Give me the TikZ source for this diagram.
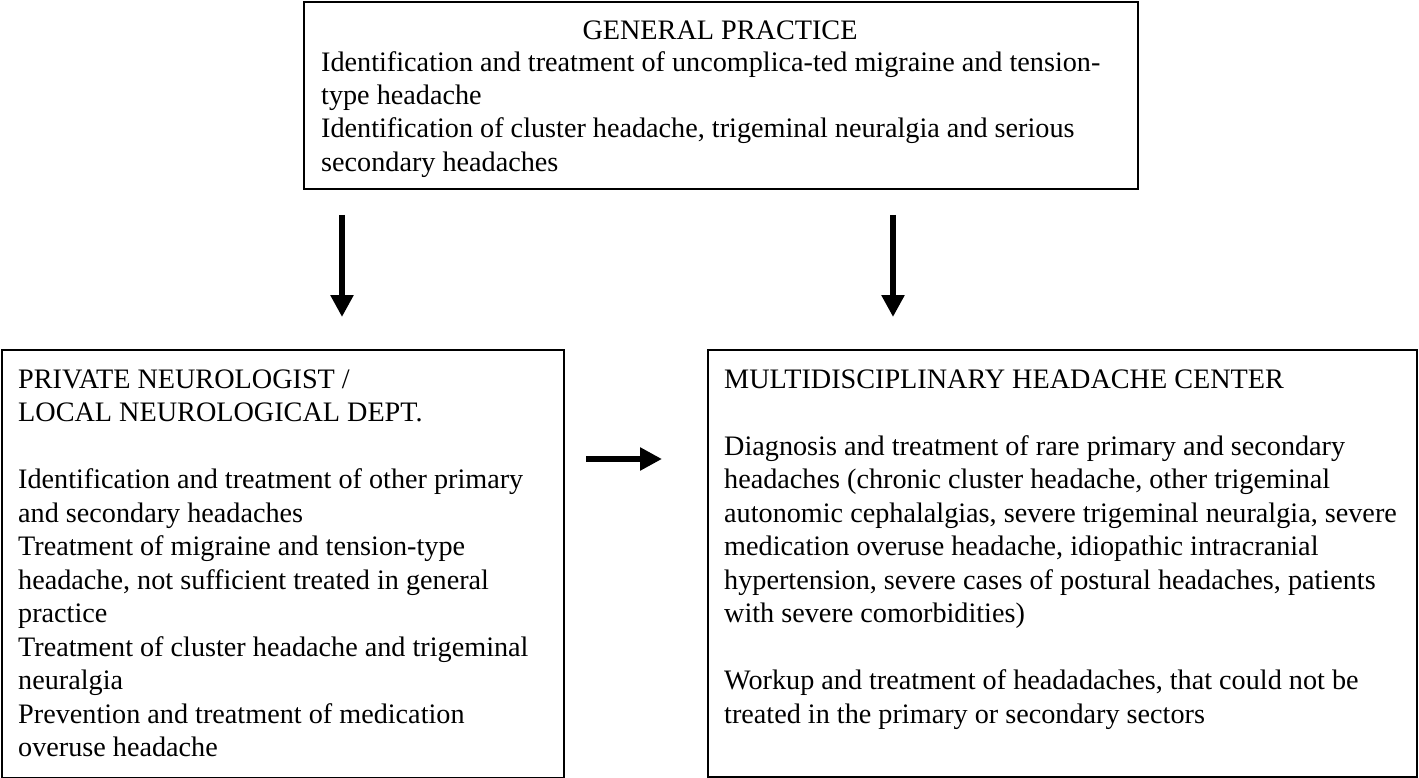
\documentclass[tikz,border=0pt]{standalone}
\usepackage{fontspec}
\setmainfont{Liberation Serif}
\usetikzlibrary{arrows.meta}
\begin{document}
\begin{tikzpicture}[x=1pt,y=-1pt,
                box/.style={draw,line width=2pt,inner sep=0pt,anchor=north west},
                txt/.style={inner sep=0pt,anchor=north west,align=left,font=\fontsize{28.2}{#1}\selectfont},
                txt/.default=33.5,
                bigarrow/.style={line width=6pt,-{Triangle[width=22pt,length=22pt]}}]
                \useasboundingbox (0,0) rectangle (1419,778);
                \node[box,minimum width=834pt,minimum height=187pt] (gp) at (303,1) {};
                \node[box,minimum width=562pt,minimum height=428pt] (pn) at (1,349) {};
                \node[box,minimum width=709pt,minimum height=427pt] (mhc) at (707,349) {};

                \node[txt,anchor=north] (gpT) at (720,15.5) {\strut GENERAL PRACTICE};
                \node[txt=33.4] (gpB) at (321,47.5) {\strut Identification and treatment of uncomplica-ted migraine and tension-\\
                    type headache\\
                    Identification of cluster headache, trigeminal neuralgia and serious\\
                    secondary headaches};
                \node[txt] (pnB) at (18,364.5) {\strut PRIVATE NEUROLOGIST /\\
                    LOCAL NEUROLOGICAL DEPT.\\[33.5pt]
                    Identification and treatment of other primary\\
                    and secondary headaches\\
                    Treatment of migraine and tension-type\\
                    headache, not sufficient treated in general\\
                    practice\\
                    Treatment of cluster headache and trigeminal\\
                    neuralgia\\
                    Prevention and treatment of  medication\\
                    overuse headache};
                \node[txt] (mhcB) at (724,364.5) {\strut MULTIDISCIPLINARY HEADACHE CENTER\\[33.5pt]
                    Diagnosis and treatment of rare primary and secondary\\
                    headaches (chronic cluster headache, other trigeminal\\
                    autonomic cephalalgias, severe trigeminal neuralgia, severe\\
                    medication overuse headache, idiopathic intracranial\\
                    hypertension, severe cases of postural headaches, patients\\
                    with severe comorbidities)\\[33.5pt]
                    Workup and treatment of headadaches, that could not be\\
                    treated in the primary or secondary sectors};

                \coordinate (A1) at (342,215);
                \coordinate (B1) at (342,317);
                \coordinate (A2) at (893,215);
                \coordinate (B2) at (893,317);
                \coordinate (A3) at (586,459);
                \coordinate (B3) at (662,459);

                \draw[bigarrow] (A1) -- (B1);
                \draw[bigarrow] (A2) -- (B2);
                \draw[bigarrow] (A3) -- (B3);
            \end{tikzpicture}
\end{document}
